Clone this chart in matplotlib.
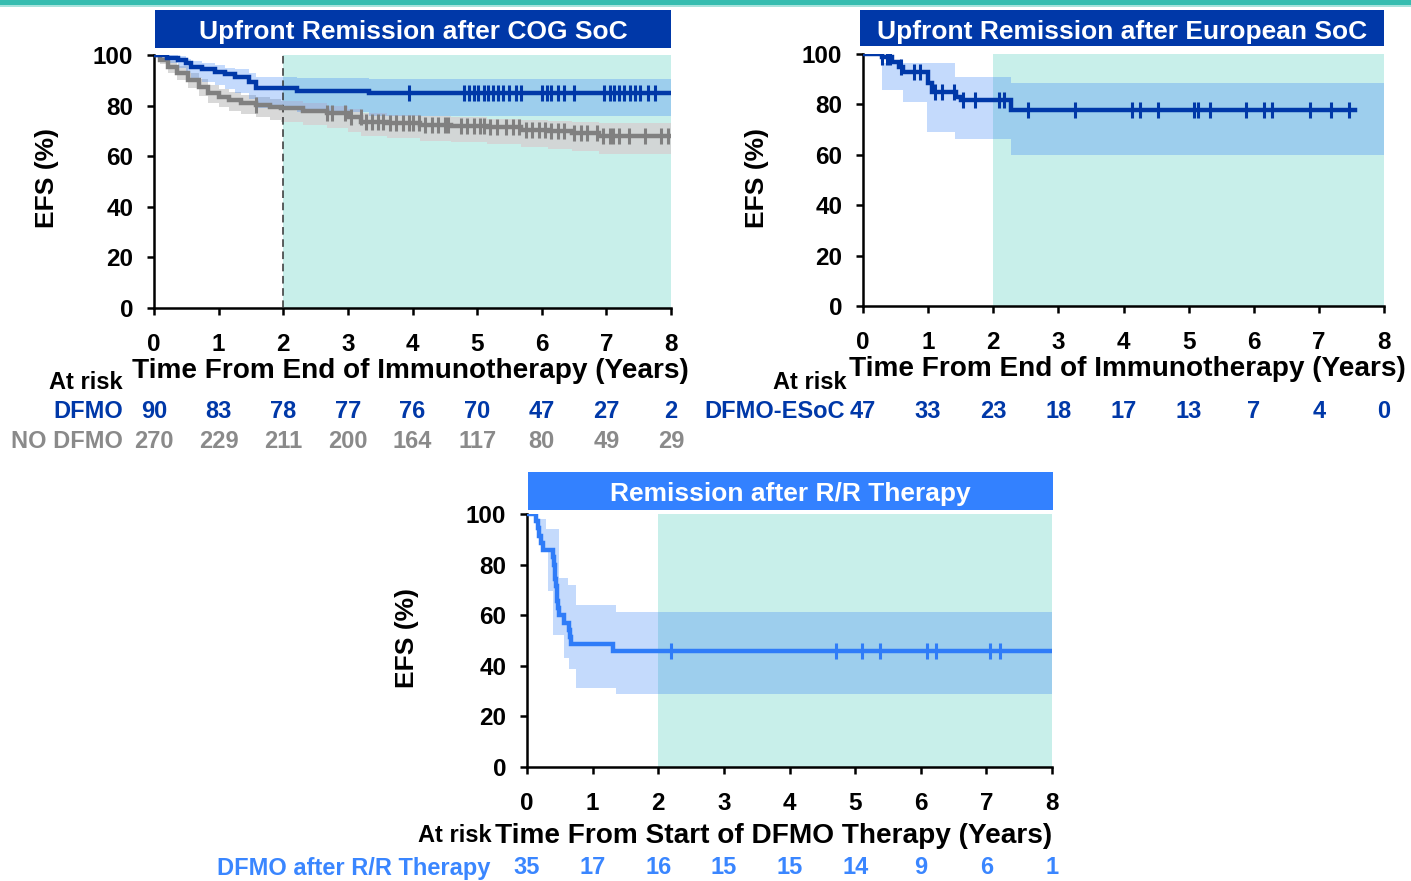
import numpy as np
import matplotlib
matplotlib.use("Agg")
import matplotlib.pyplot as plt
from matplotlib.patches import Rectangle
from matplotlib.transforms import blended_transform_factory

plt.rcParams['font.family'] = ['Liberation Sans', 'DejaVu Sans']
plt.rcParams['font.weight'] = 'bold'

W, H = 1411, 881

# ---- Upfront remission after COG SoC ----
cog_dfmo_t = [0, 0.20, 0.37, 0.50, 0.58, 0.75, 0.95, 1.10, 1.26, 1.47, 1.58, 2.21, 3.32]
cog_dfmo_s = [100, 99.0, 98.0, 96.7, 95.4, 94.4, 93.4, 92.4, 91.4, 89.5, 86.8, 85.9, 84.9]
cog_dfmo_hi = [100, 100, 99.5, 98.5, 97.5, 97.0, 96.0, 95.0, 94.5, 93.0, 91.5, 90.8, 90.4]
cog_dfmo_lo = [100, 97.0, 95.0, 93.0, 91.0, 89.5, 88.0, 86.5, 85.0, 82.5, 79.0, 77.5, 75.7]
cog_dfmo_cens = [3.95, 4.80, 4.88, 4.95, 5.02, 5.10, 5.17, 5.25, 5.33, 5.40, 5.50, 5.60, 5.68,
                 6.00, 6.08, 6.15, 6.25, 6.35, 6.50, 6.97, 7.05, 7.12, 7.20, 7.28, 7.36,
                 7.44, 7.52, 7.65, 7.75]

cog_no_t = [0, 0.10, 0.21, 0.35, 0.53, 0.70, 0.84, 1.00, 1.16, 1.35, 1.58, 1.80, 1.97,
            2.30, 2.68, 3.00, 3.21, 3.60, 4.11, 4.60, 5.16, 5.68, 6.10, 6.47, 6.89]
cog_no_s = [100, 98.0, 95.4, 93.0, 90.1, 87.3, 84.9, 83.4, 82.2, 81.2, 80.3, 79.5, 78.9,
            78.0, 77.0, 75.5, 73.7, 73.0, 72.4, 71.9, 71.4, 70.4, 69.8, 69.1, 67.8]
cog_no_hi = [100, 99.5, 97.5, 95.5, 93.0, 90.5, 88.0, 86.5, 85.3, 84.3, 83.3, 82.5, 81.8,
             81.0, 80.0, 78.7, 77.0, 76.4, 75.8, 75.4, 74.9, 74.2, 73.8, 73.5, 73.3]
cog_no_lo = [100, 96.5, 93.0, 90.3, 86.8, 83.6, 81.0, 79.3, 77.9, 76.6, 75.5, 74.4, 73.6,
             72.5, 71.3, 69.7, 67.8, 67.0, 66.2, 65.6, 64.9, 63.8, 63.0, 62.2, 60.8]
cog_no_cens = [1.58, 2.68, 2.76, 2.95, 3.05, 3.20, 3.28, 3.37, 3.47, 3.55, 3.65, 3.75, 3.85,
               3.95, 4.00, 4.10, 4.20, 4.30, 4.40, 4.50, 4.55, 4.75, 4.85, 4.95, 5.05, 5.10,
               5.20, 5.30, 5.45, 5.55, 5.65, 5.75, 5.85, 5.95, 6.05, 6.15, 6.25, 6.35, 6.50,
               6.60, 6.70, 6.85, 6.95, 7.05, 7.10, 7.20, 7.35, 7.60, 7.85, 7.95]

# ---- Upfront remission after European SoC ----
esoc_t = [0, 0.29, 0.45, 0.56, 0.61, 1.00, 1.06, 1.43, 1.50, 2.28]
esoc_s = [100, 98.9, 97.0, 95.0, 93.0, 88.3, 85.0, 83.0, 81.7, 77.7]
esoc_end = 7.55
esoc_ci_t = [0, 0.29, 0.61, 0.98, 1.42, 2.28]
esoc_hi = [100, 96.3, 96.3, 96.3, 91.0, 88.6]
esoc_lo = [100, 85.7, 81.1, 69.1, 66.1, 59.9]
esoc_cens = [0.29, 0.37, 0.42, 0.58, 0.79, 0.87, 1.11, 1.22, 1.40, 1.54, 1.72, 2.09, 2.17,
             2.54, 3.26, 4.13, 4.26, 4.53, 5.09, 5.14, 5.33, 5.88, 6.15, 6.28, 6.86, 7.18, 7.47]

# ---- Remission after R/R therapy ----
rr_t = [0, 0.13, 0.16, 0.19, 0.21, 0.24, 0.40, 0.41, 0.42, 0.43, 0.44, 0.45, 0.46, 0.47,
        0.48, 0.56, 0.64, 0.65, 0.67, 1.31]
rr_s = [100, 97.1, 94.3, 91.4, 88.6, 85.7, 82.9, 80.0, 77.1, 74.3, 71.4, 68.6, 65.7, 62.9,
        60.0, 57.1, 54.3, 51.4, 48.6, 45.7]
rr_ci_t = [0, 0.19, 0.21, 0.29, 0.32, 0.40, 0.48, 0.56, 0.62, 0.64, 0.75, 1.36]
rr_hi = [100, 98.0, 98.0, 94.0, 94.0, 94.0, 74.8, 74.8, 72.1, 72.1, 64.1, 61.2]
rr_lo = [100, 91.0, 86.7, 86.7, 69.5, 52.0, 52.0, 42.9, 42.9, 38.9, 31.2, 29.0]
rr_cens = [2.19, 4.71, 5.11, 5.38, 6.10, 6.23, 7.06, 7.20]

years = list(range(9))
risk_cog_dfmo = [90, 83, 78, 77, 76, 70, 47, 27, 2]
risk_cog_no = [270, 229, 211, 200, 164, 117, 80, 49, 29]
risk_esoc = [47, 33, 23, 18, 17, 13, 7, 4, 0]
risk_rr = [35, 17, 16, 15, 15, 14, 9, 6, 1]

DARK = '#0038a8'
BRIGHT = '#2f7cf8'
GREY = '#808080'
TEAL = '#c8efea'
CI_BLUE = '#3480f5'


def fx(x):
    return x / W


def fy(y):
    return 1 - y / H


def add_axes(left, top, right, bottom):
    return fig.add_axes([fx(left), fy(bottom), (right - left) / W, (bottom - top) / H])


def surv_at(times, t, s):
    idx = np.searchsorted(t, times, side='right') - 1
    return np.asarray(s)[idx]


def km(ax, t, s, end, color, cens, lw=3.2):
    tt = np.append(t, end)
    ss = np.append(s, s[-1])
    ax.step(tt, ss, where='post', color=color, lw=lw, zorder=5, solid_joinstyle='miter')
    ax.plot(cens, surv_at(cens, t, s), ls='none', marker='|', ms=12, mew=2.2,
            color=color, zorder=6)


def band(ax, t, lo, hi, end, color, alpha):
    tt = np.append(t, end)
    ax.fill_between(tt, np.append(lo, lo[-1]), np.append(hi, hi[-1]), step='post',
                    color=color, alpha=alpha, lw=0, zorder=2)


def style(ax):
    ax.set_xlim(0, 8)
    ax.set_ylim(0, 100)
    ax.set_xticks(years)
    ax.set_yticks(range(0, 101, 20))
    for sp in ('top', 'right'):
        ax.spines[sp].set_visible(False)
    for sp in ('left', 'bottom'):
        ax.spines[sp].set_linewidth(1.8)
    ax.tick_params(axis='both', direction='out', length=5, width=1.8, labelsize=17.5)
    ax.tick_params(axis='x', pad=13)
    ax.tick_params(axis='y', pad=10)
    for lab in ax.get_xticklabels() + ax.get_yticklabels():
        lab.set_fontweight('bold')
    ax.axvspan(2, 8, color=TEAL, lw=0, zorder=0)


def title_box(x0, y0, x1, y1, text, color):
    fig.add_artist(Rectangle((fx(x0), fy(y1)), (x1 - x0) / W, (y1 - y0) / H,
                             transform=fig.transFigure, color=color, lw=0))
    fig.text(fx((x0 + x1) / 2), fy((y0 + y1) / 2 + 1), text, color='white', fontsize=19,
             fontweight='bold', ha='center', va='center_baseline')


def risk_row(ax, y, values, color, name, name_x):
    tr = blended_transform_factory(ax.transData, fig.transFigure)
    for x, v in zip(years, values):
        ax.text(x, fy(y), str(v), transform=tr, ha='center', va='center',
                fontsize=17, fontweight='bold', color=color)
    fig.text(fx(name_x), fy(y), name, ha='right', va='center', fontsize=17,
             fontweight='bold', color=color)


fig = plt.figure(figsize=(W / 100, H / 100), dpi=100)

# strip along the top edge
fig.add_artist(Rectangle((0, fy(5)), 1, 5 / H, transform=fig.transFigure,
                         color='#36bdb0', lw=0))
fig.add_artist(Rectangle((0, fy(7)), 1, 2 / H, transform=fig.transFigure,
                         color='#a8e3dc', lw=0))

# panel 1
ax1 = add_axes(154, 55, 671, 308)
style(ax1)
ax1.axvline(2, color='#333333', lw=1.1, ls=(0, (5, 3)), zorder=3)
band(ax1, cog_no_t, cog_no_lo, cog_no_hi, 8, '#d4d4d4', 0.9)
band(ax1, cog_dfmo_t, cog_dfmo_lo, cog_dfmo_hi, 8, CI_BLUE, 0.29)
km(ax1, cog_no_t, cog_no_s, 8, GREY, cog_no_cens)
km(ax1, cog_dfmo_t, cog_dfmo_s, 8, DARK, cog_dfmo_cens)
title_box(155, 10, 671, 48, 'Upfront Remission after COG SoC', DARK)
fig.text(fx(47), fy(178), 'EFS (%)', rotation=90, ha='center', va='center',
         fontsize=19, fontweight='bold')
fig.text(fx(410), fy(371), 'Time From End of Immunotherapy (Years)', ha='center',
         va='center', fontsize=20.2, fontweight='bold')
fig.text(fx(123), fy(383), 'At risk', ha='right', va='center', fontsize=17,
         fontweight='bold')
risk_row(ax1, 412, risk_cog_dfmo, DARK, 'DFMO', 123)
risk_row(ax1, 441, risk_cog_no, '#8a8a8a', 'NO DFMO', 123)

# panel 2
ax2 = add_axes(863, 54, 1384, 306)
style(ax2)
band(ax2, esoc_ci_t, esoc_lo, esoc_hi, 8, CI_BLUE, 0.29)
km(ax2, esoc_t, esoc_s, esoc_end, DARK, esoc_cens)
title_box(860, 10, 1384, 46, 'Upfront Remission after European SoC', DARK)
fig.text(fx(757), fy(178), 'EFS (%)', rotation=90, ha='center', va='center',
         fontsize=19, fontweight='bold')
fig.text(fx(1127), fy(369), 'Time From End of Immunotherapy (Years)', ha='center',
         va='center', fontsize=20.2, fontweight='bold')
fig.text(fx(847), fy(383), 'At risk', ha='right', va='center', fontsize=17,
         fontweight='bold')
risk_row(ax2, 412, risk_esoc, DARK, 'DFMO-ESoC', 845)

# panel 3
ax3 = add_axes(527, 514, 1052, 767)
style(ax3)
band(ax3, rr_ci_t, rr_lo, rr_hi, 8, CI_BLUE, 0.29)
km(ax3, rr_t, rr_s, 8, BRIGHT, rr_cens)
title_box(528, 472, 1053, 510, 'Remission after R/R Therapy', '#3381ff')
fig.text(fx(407), fy(638), 'EFS (%)', rotation=90, ha='center', va='center',
         fontsize=19, fontweight='bold')
fig.text(fx(774), fy(836), 'Time From Start of DFMO Therapy (Years)', ha='center',
         va='center', fontsize=20.2, fontweight='bold')
fig.text(fx(492), fy(836), 'At risk', ha='right', va='center', fontsize=17,
         fontweight='bold')
risk_row(ax3, 868, risk_rr, '#3a86ff', 'DFMO after R/R Therapy', 490)

fig.savefig('out.png', dpi=100)
